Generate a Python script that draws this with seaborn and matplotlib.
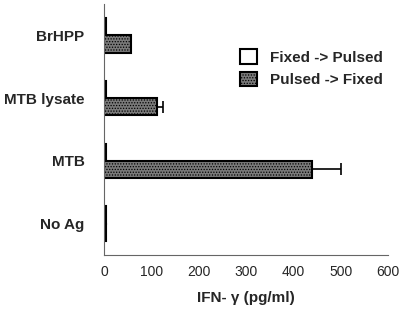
import numpy as np
import pandas as pd
import matplotlib
matplotlib.use("Agg")
import matplotlib.pyplot as plt
import seaborn as sns
from matplotlib.patches import Patch

categories = ["BrHPP", "MTB lysate", "MTB", "No Ag"]
fixed_pulsed = [4, 4, 4, 4]
pulsed_fixed = [57, 112, 440, 4]
pulsed_fixed_err = [0, 13, 61, 0]
series = ["Fixed -> Pulsed", "Pulsed -> Fixed"]

df = pd.DataFrame({
    "cat": categories * 2,
    "val": fixed_pulsed + pulsed_fixed,
    "grp": [series[0]] * 4 + [series[1]] * 4,
})

sns.set_style("white")
plt.rcParams["font.family"] = ["Liberation Sans", "DejaVu Sans"]
plt.rcParams["hatch.linewidth"] = 0.6

fig = plt.figure(figsize=(4, 3.09), dpi=100)
ax = fig.add_axes([0.26, 0.175, 0.71, 0.812])

sns.barplot(data=df, y="cat", x="val", hue="grp", order=categories,
            hue_order=series, orient="h", width=0.55,
            palette=["white", "#7a7a7a"], edgecolor="black", linewidth=1.5,
            legend=False, ax=ax)

# hatch the second series and add its error bars
for c in ax.containers[1]:
    c.set_hatch("......")
ys = [b.get_y() + b.get_height() / 2 for b in ax.containers[1]]
ax.errorbar(pulsed_fixed, ys, xerr=[np.zeros(4), pulsed_fixed_err],
            fmt="none", ecolor="black", elinewidth=1.2, capsize=4, capthick=1.2)

ax.set_xlim(0, 600)
ax.set_ylim(3.5, -0.5)
ax.set_xticks(range(0, 601, 100))
ax.tick_params(axis="x", labelsize=10, length=3, width=0.6, color="#666", pad=4)
ax.set_yticks(range(4))
ax.set_yticklabels(categories, fontweight="bold", fontsize=11)
ax.tick_params(axis="y", length=0, pad=14)
ax.set_yticks(np.arange(-0.5, 4, 1), minor=True)
ax.tick_params(axis="y", which="minor", length=3, width=0.6, color="#666")
for s in ["top", "right"]:
    ax.spines[s].set_visible(False)
for s in ["left", "bottom"]:
    ax.spines[s].set_color("#666")
    ax.spines[s].set_linewidth(0.8)

ax.set_ylabel("")
ax.set_xlabel("IFN- \u03b3 (pg/ml)", fontweight="bold", fontsize=11, labelpad=9)

handles = [Patch(facecolor="white", edgecolor="black", linewidth=1.5),
           Patch(facecolor="#7a7a7a", edgecolor="black", linewidth=1.5, hatch="......")]
leg = ax.legend(handles, series, loc="upper left", bbox_to_anchor=(0.43, 0.875),
                frameon=False, prop={"weight": "bold", "size": 11},
                handlelength=1.1, handleheight=1.1, handletextpad=0.9, labelspacing=0.45)

fig.savefig("out.png", dpi=100)
